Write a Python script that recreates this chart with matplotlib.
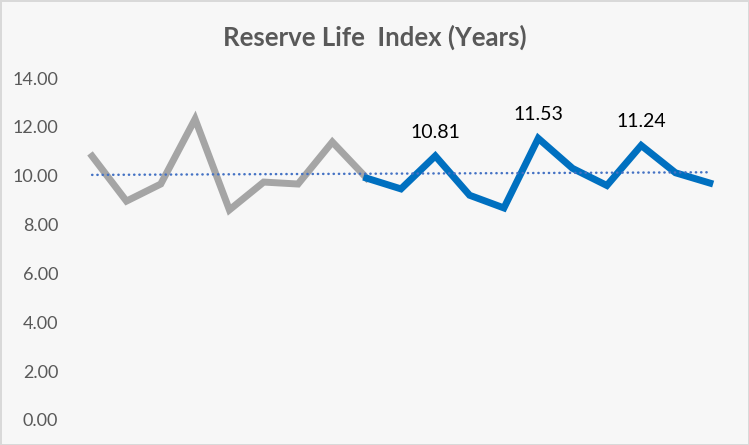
"""Reserve Life Index chart"""

import numpy as np
import matplotlib
matplotlib.use("Agg")
import matplotlib.pyplot as plt

# Data
hist_idx = list(range(0, 9))
hist_vals = [10.80, 8.96, 9.66, 12.32, 8.60, 9.74, 9.66, 11.38, 9.90]
proj_idx = list(range(8, 19))
proj_vals = [9.90, 9.46, 10.81, 9.20, 8.68, 11.53, 10.30, 9.60, 11.24, 10.12, 9.70]
label_idx = [10, 13, 16]
y_ticks = [0, 2, 4, 6, 8, 10, 12, 14]

plt.rcParams['font.family'] = ['Lato', 'DejaVu Sans']

fig = plt.figure(figsize=(7.49, 4.45), dpi=100)
fig.patch.set_facecolor('#f7f7f7')
fig.patch.set_edgecolor('#d9d9d9')
fig.patch.set_linewidth(2)

ax = fig.add_axes([0.1001, 0.0562, 0.8705, 0.7685])
ax.set_facecolor('#f7f7f7')

# Trendline over the whole series
all_idx = np.array(hist_idx[:-1] + proj_idx)
all_vals = np.array(hist_vals[:-1] + proj_vals)
slope, intercept = np.polyfit(all_idx, all_vals, 1)
tx = np.array([0, 18])
ax.plot(tx, slope * tx + intercept, color='#4472c4', lw=1.8,
        linestyle=(0, (0.1, 2.0)), dash_capstyle='round', zorder=3)

ax.plot(hist_idx, hist_vals, color='#a5a5a5', lw=5, solid_joinstyle='miter', zorder=2)
ax.plot(proj_idx, proj_vals, color='#0070c0', lw=5, solid_joinstyle='miter', zorder=2)

for i in label_idx:
    v = proj_vals[proj_idx.index(i)]
    ax.annotate(f"{v:.2f}", (i, v), xytext=(0, 11), textcoords='offset points',
                ha='center', va='bottom', fontsize=14, color='black')

ax.set_xlim(-0.5, 18.5)
ax.set_ylim(0, 14)
ax.set_yticks(y_ticks)
ax.set_yticklabels([f"{t:.2f}" for t in y_ticks])
ax.set_xticks([])
ax.tick_params(axis='y', length=0, pad=12, labelsize=13, labelcolor='#595959')
for s in ax.spines.values():
    s.set_visible(False)

fig.text(0.5, 0.915, "Reserve Life  Index (Years)", ha='center', va='center',
         fontsize=18.5, fontweight='bold', color='#595959')

fig.savefig("out.png", dpi=100, facecolor=fig.get_facecolor(),
            edgecolor=fig.get_edgecolor())
